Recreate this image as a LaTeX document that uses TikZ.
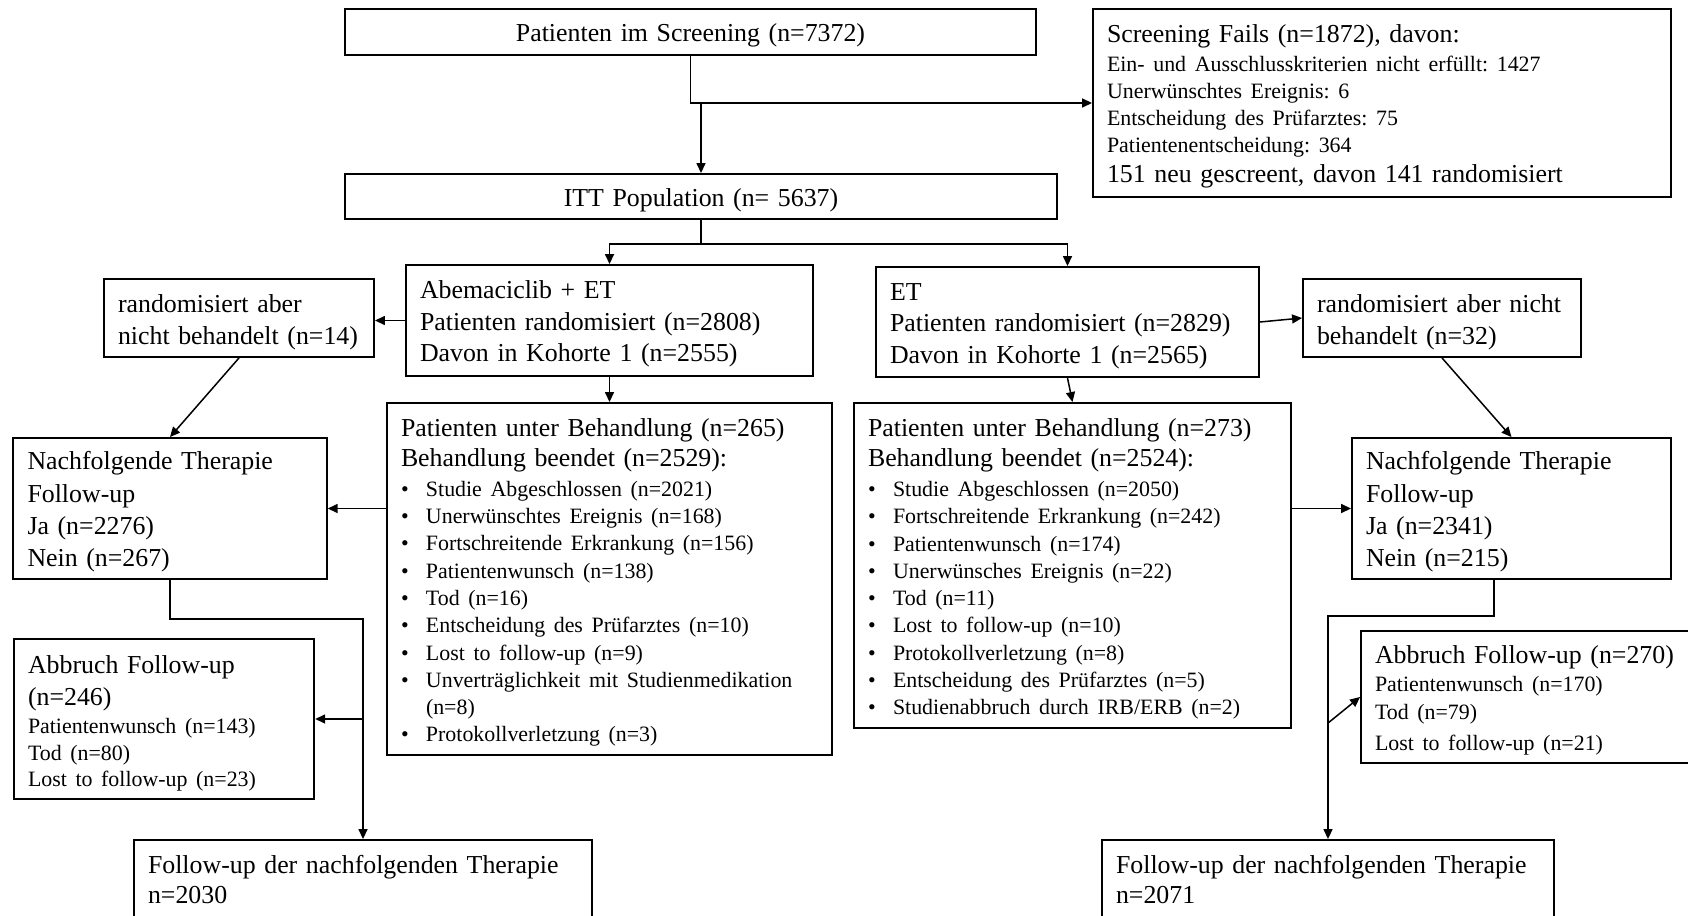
\documentclass[tikz,border=0pt]{standalone}
\usepackage{fontspec}
\setmainfont{Liberation Serif}
\usetikzlibrary{arrows.meta,calc}
\frenchspacing
\newcommand\bigf{\fontsize{25.85}{31.7}\selectfont}
\newcommand\smf{\fontsize{21.9}{27.2}\selectfont}
\newcommand\sline[1]{{\smf #1}}
\newcommand\sitem[1]{{\smf\makebox[25pt][l]{\textbullet}#1}}
\begin{document}
\begin{tikzpicture}[x=1pt,y=-1pt,
  tdown/.style={execute at begin node={\rule{0pt}{#1}}},
  box/.style={draw, line width=1.9pt, rectangle, inner xsep=14pt, inner ysep=0pt, align=left, font=\bigf, tdown=25pt},
  cbox/.style={box, align=center},
  conn/.style={line width=1.5pt},
  arr/.style={line width=1.5pt, -{Triangle[length=10pt,width=9pt]}}]
\fill[white] (0,0) rectangle (1688,915);
\useasboundingbox (0,0) rectangle (1688,915);

% boxes
\node[cbox, minimum width=691pt, minimum height=46pt, text width=663pt] (scr) at (690.5,32) {Patienten im Screening (n=7372)};
\node[box, minimum width=578pt, minimum height=188pt, text width=550pt, font={\fontsize{25.85}{27}\selectfont}] (fail) at (1382,103)
  {Screening Fails (n=1872), davon:\\[2pt]
   \sline{Ein- und Ausschlusskriterien nicht erfüllt: 1427}\\
   \sline{Unerwünschtes Ereignis: 6}\\
   \sline{Entscheidung des Prüfarztes: 75}\\
   \sline{Patientenentscheidung: 364}\\[3pt]
   151 neu gescreent, davon 141 randomisiert};
\node[cbox, minimum width=712pt, minimum height=45pt, text width=684pt] (ITT) at (701,196.5) {ITT Population (n= 5637)};
\node[box, minimum width=407pt, minimum height=111pt, text width=379pt] (abe) at (609.5,320.5)
  {Abemaciclib + ET\\Patienten randomisiert (n=2808)\\Davon in Kohorte 1 (n=2555)};
\node[box, minimum width=383pt, minimum height=110pt, text width=355pt] (ET) at (1067.5,322)
  {ET\\Patienten randomisiert (n=2829)\\Davon in Kohorte 1 (n=2565)};
\node[box, minimum width=270pt, minimum height=78pt, text width=242pt, font={\fontsize{25.85}{32}\selectfont}, tdown=27pt] (rand14) at (239,318)
  {\mbox{randomisiert aber}\\\mbox{nicht behandelt (n=14)}};
\node[box, minimum width=278pt, minimum height=78pt, text width=250pt, font={\fontsize{25.85}{32}\selectfont}, tdown=27pt] (rand32) at (1442,318)
  {\mbox{randomisiert aber nicht}\\\mbox{behandelt (n=32)}};
\node[box, minimum width=445pt, minimum height=352pt, text width=417pt, font={\fontsize{25.85}{27.3}\selectfont}] (behL) at (609.5,579)
  {Patienten unter Behandlung (n=265)\\[2.7pt]
   Behandlung beendet (n=2529):\\[2.7pt]
   \sitem{Studie Abgeschlossen (n=2021)}\\
   \sitem{Unerwünschtes Ereignis (n=168)}\\
   \sitem{Fortschreitende Erkrankung (n=156)}\\
   \sitem{Patientenwunsch (n=138)}\\
   \sitem{Tod (n=16)}\\
   \sitem{Entscheidung des Prüfarztes (n=10)}\\
   \sitem{Lost to follow-up (n=9)}\\
   \sitem{Unverträglichkeit mit Studienmedikation}\\
   \sline{\hspace*{25pt}(n=8)}\\
   \sitem{Protokollverletzung (n=3)}};
\node[box, minimum width=437pt, minimum height=325pt, text width=409pt, font={\fontsize{25.85}{27.3}\selectfont}] (behR) at (1072.5,565.5)
  {Patienten unter Behandlung (n=273)\\[2.7pt]
   Behandlung beendet (n=2524):\\[2.7pt]
   \sitem{Studie Abgeschlossen (n=2050)}\\
   \sitem{Fortschreitende Erkrankung (n=242)}\\
   \sitem{Patientenwunsch (n=174)}\\
   \sitem{Unerwünsches Ereignis (n=22)}\\
   \sitem{Tod (n=11)}\\
   \sitem{Lost to follow-up (n=10)}\\
   \sitem{Protokollverletzung (n=8)}\\
   \sitem{Entscheidung des Prüfarztes (n=5)}\\
   \sitem{Studienabbruch durch IRB/ERB (n=2)}};
\node[box, minimum width=313.5pt, minimum height=141pt, text width=285pt, font={\fontsize{25.85}{32.3}\selectfont}] (nachL) at (170,508.5)
  {Nachfolgende Therapie\\Follow-up\\Ja (n=2276)\\Nein (n=267)};
\node[box, minimum width=319pt, minimum height=141pt, text width=291pt, font={\fontsize{25.85}{32.3}\selectfont}] (nachR) at (1511.5,508.5)
  {Nachfolgende Therapie\\Follow-up\\Ja (n=2341)\\Nein (n=215)};
\node[box, minimum width=300.5pt, minimum height=160pt, text width=272pt, font={\fontsize{25.85}{26.5}\selectfont}, tdown=27pt] (abbL) at (164,719)
  {Abbruch Follow-up\\[5.2pt]
   (n=246)\\[1.8pt]
   \sline{Patientenwunsch (n=143)}\\
   \sline{Tod (n=80)}\\
   \sline{Lost to follow-up (n=23)}};
\node[box, minimum width=339pt, minimum height=132pt, text width=311pt, font={\fontsize{25.85}{27.7}\selectfont}] (abbR) at (1530.5,697)
  {Abbruch Follow-up (n=270)\\[0.3pt]
   \sline{Patientenwunsch (n=170)}\\
   \sline{Tod (n=79)}\\[3.3pt]
   \sline{Lost to follow-up (n=21)}};
\node[box, minimum width=458pt, minimum height=80pt, text width=430pt, font={\fontsize{25.85}{30}\selectfont}, tdown=0pt] (fuL) at (363,880)
  {Follow-up der nachfolgenden Therapie\\n=2030\rule[-8pt]{0pt}{0pt}};
\node[box, minimum width=452pt, minimum height=80pt, text width=424pt, font={\fontsize{25.85}{30}\selectfont}, tdown=0pt] (fuR) at (1328,880)
  {Follow-up der nachfolgenden Therapie\\n=2071\rule[-8pt]{0pt}{0pt}};

% connectors
\draw[arr] (scr.south) |- (fail.west);
\draw[arr] (ITT.north |- fail.west) -- (ITT.north);
\draw[conn] (ITT.south) -- ($(ITT.south)+(0,24)$) coordinate (split);
\draw[arr] (split) -| (abe.north);
\draw[arr] (split) -| (ET.north);
\draw[arr] (abe.west) -- (abe.west -| rand14.east);
\draw[arr] (ET.east) -- (rand32.west);
\draw[arr] (abe.south) -- (behL.north);
\draw[arr] (ET.south) -- (behR.north);
\draw[arr] (rand14.south) -- (nachL.north);
\draw[arr] (rand32.south) -- (nachR.north);
\draw[arr] (nachL.east -| behL.west) -- (nachL.east);
\draw[arr] (nachR.west -| behR.east) -- (nachR.west);
\draw[arr] (nachL.south) -- ($(nachL.south)+(0,39)$) -| (fuL.north);
\draw[arr] (abbL.east -| fuL.north) -- (abbL.east);
\coordinate (jR) at ($(nachR.south)+(-17.5,0)$);
\draw[arr] (jR) -- ($(jR)+(0,36)$) -| (fuR.north);
\draw[arr] ($(fuR.north)+(0,-116)$) -- (abbR.west);
\end{tikzpicture}
\end{document}
